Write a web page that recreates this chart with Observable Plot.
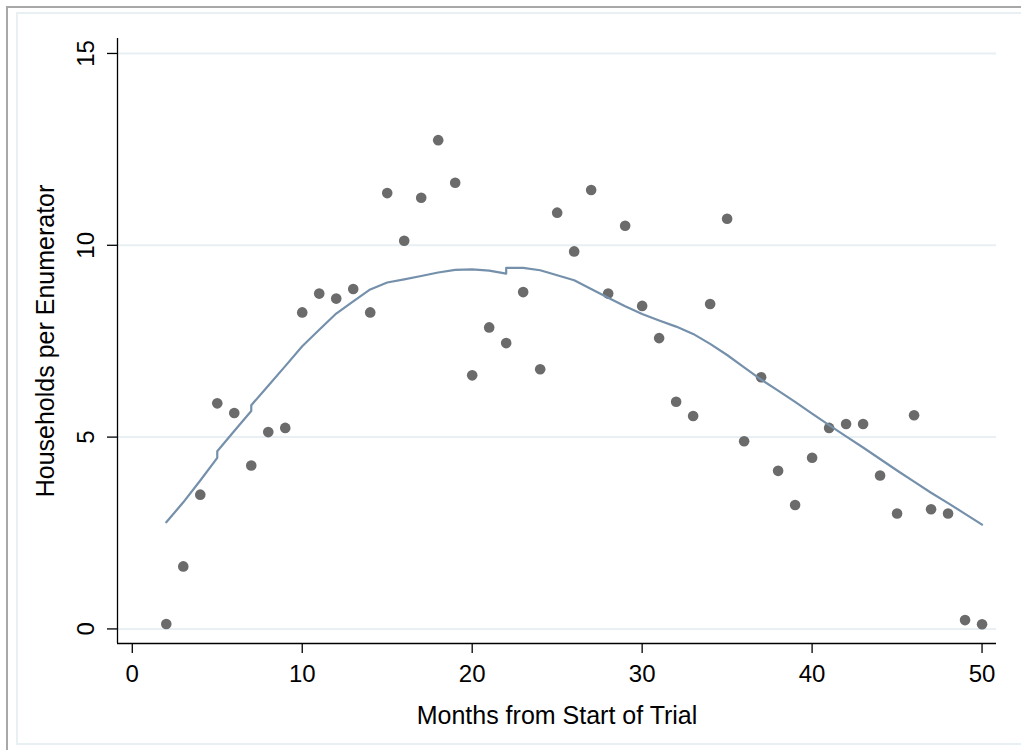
<!DOCTYPE html>
<html>
<head>
<meta charset="utf-8">
<script src="https://cdn.jsdelivr.net/npm/d3@7"></script>
<script src="https://cdn.jsdelivr.net/npm/@observablehq/plot@0.6"></script>
<style>
  html, body { margin: 0; padding: 0; background: #ffffff; overflow: hidden; }
  #stage { position: relative; width: 1021px; height: 750px; overflow: hidden; background: #ffffff; }
  #chart { position: absolute; left: 0; top: 0; }
  .outer { position: absolute; left: 6px; top: 6px; width: 1200px; height: 1200px;
           border-left: 2px solid #a8a8a8; border-top: 2px solid #a8a8a8; pointer-events: none; }
  .inner { position: absolute; left: 16px; top: 12px; width: 1200px; height: 729px;
           border: 2px solid #e8f0f3; pointer-events: none; }
</style>
</head>
<body>
<div id="stage">
  <div id="chart"></div>
  <div class="outer"></div>
  <div class="inner"></div>
</div>
<script>
// ---- Data ----
const months = [2,3,4,5,6,7,8,9,10,11,12,13,14,15,16,17,18,19,20,21,22,23,24,25,26,27,28,29,30,31,32,33,34,35,36,37,38,39,40,41,42,43,44,45,46,47,48,49,50];
const households = [0.13,1.63,3.50,5.88,5.63,4.26,5.13,5.24,8.25,8.74,8.61,8.86,8.25,11.36,10.12,11.24,12.74,11.63,6.61,7.86,7.45,8.78,6.77,10.85,9.84,11.44,8.74,10.51,8.42,7.58,5.92,5.55,8.47,10.69,4.89,6.56,4.12,3.23,4.46,5.24,5.34,5.34,4.00,3.01,5.57,3.12,3.01,0.23,0.12];

// smoothed (lowess) line as drawn, including its small steps
const smoothX = [2,3,4,5,5,6,7,7,8,9,10,11,12,13,14,15,16,17,18,19,20,21,22,22,23,24,25,26,27,28,29,30,31,32,33,34,35,36,37,38,39,40,41,42,43,44,45,46,47,48,49,50];
const smoothY = [2.78,3.30,3.87,4.46,4.63,5.16,5.68,5.83,6.34,6.85,7.37,7.80,8.22,8.54,8.85,9.03,9.11,9.20,9.29,9.36,9.37,9.34,9.26,9.41,9.41,9.35,9.22,9.09,8.86,8.63,8.41,8.21,8.04,7.88,7.69,7.43,7.14,6.82,6.50,6.21,5.92,5.61,5.31,5.02,4.73,4.43,4.13,3.84,3.55,3.28,3.00,2.72];

const xTicks = [0,10,20,30,40,50];
const yTicks = [0,5,10,15];
const xTitle = "Months from Start of Trial";
const yTitle = "Households per Enumerator";

const xDomain = [-0.87, 50.85];
const yDomain = [-0.38, 15.39];

// ---- Build tables ----
const points = months.map((m, i) => ({month: m, value: households[i]}));
const smooth = smoothX.map((m, i) => ({month: m, value: smoothY[i]}));

const font = "'Liberation Sans', Arial, Helvetica, sans-serif";

const chart = Plot.plot({
  width: 1021,
  height: 750,
  marginLeft: 117,
  marginRight: 25,
  marginTop: 38,
  marginBottom: 107,
  style: {background: "transparent", fontFamily: font, color: "#000"},
  x: {domain: xDomain, axis: null},
  y: {domain: yDomain, axis: null},
  marks: [
    Plot.gridY(yTicks, {stroke: "#e8f0f3", strokeOpacity: 1, strokeWidth: 2}),
    Plot.ruleX([xDomain[0]], {stroke: "#000", strokeWidth: 1.3}),
    Plot.ruleY([yDomain[0]], {stroke: "#000", strokeWidth: 1.3}),
    Plot.axisX({ticks: xTicks, tickSize: 10, tickPadding: 11, fontSize: 24, tickFormat: d => String(d), label: null, stroke: "#000", strokeWidth: 1.3}),
    Plot.axisY({ticks: yTicks, tickSize: 10, text: null, label: null, stroke: "#000", strokeWidth: 1.3}),
    Plot.text(yTicks, {x: () => xDomain[0], y: d => d, text: d => String(d), rotate: -90, dx: -23.5, textAnchor: "middle", lineAnchor: "bottom", fontSize: 24, fill: "#000"}),
    Plot.text([xTitle], {frameAnchor: "bottom", lineAnchor: "bottom", dy: 80, fontSize: 25, fill: "#000"}),
    Plot.text([yTitle], {frameAnchor: "left", rotate: -90, lineAnchor: "bottom", textAnchor: "middle", dx: -63.5, fontSize: 25, fill: "#000"}),
    Plot.dot(points, {x: "month", y: "value", r: 5.3, fill: "#6b6b6b", stroke: "none"}),
    Plot.line(smooth, {x: "month", y: "value", stroke: "#7590ab", strokeWidth: 2.2, curve: "linear"})
  ]
});

document.getElementById("chart").appendChild(chart);
</script>
</body>
</html>
